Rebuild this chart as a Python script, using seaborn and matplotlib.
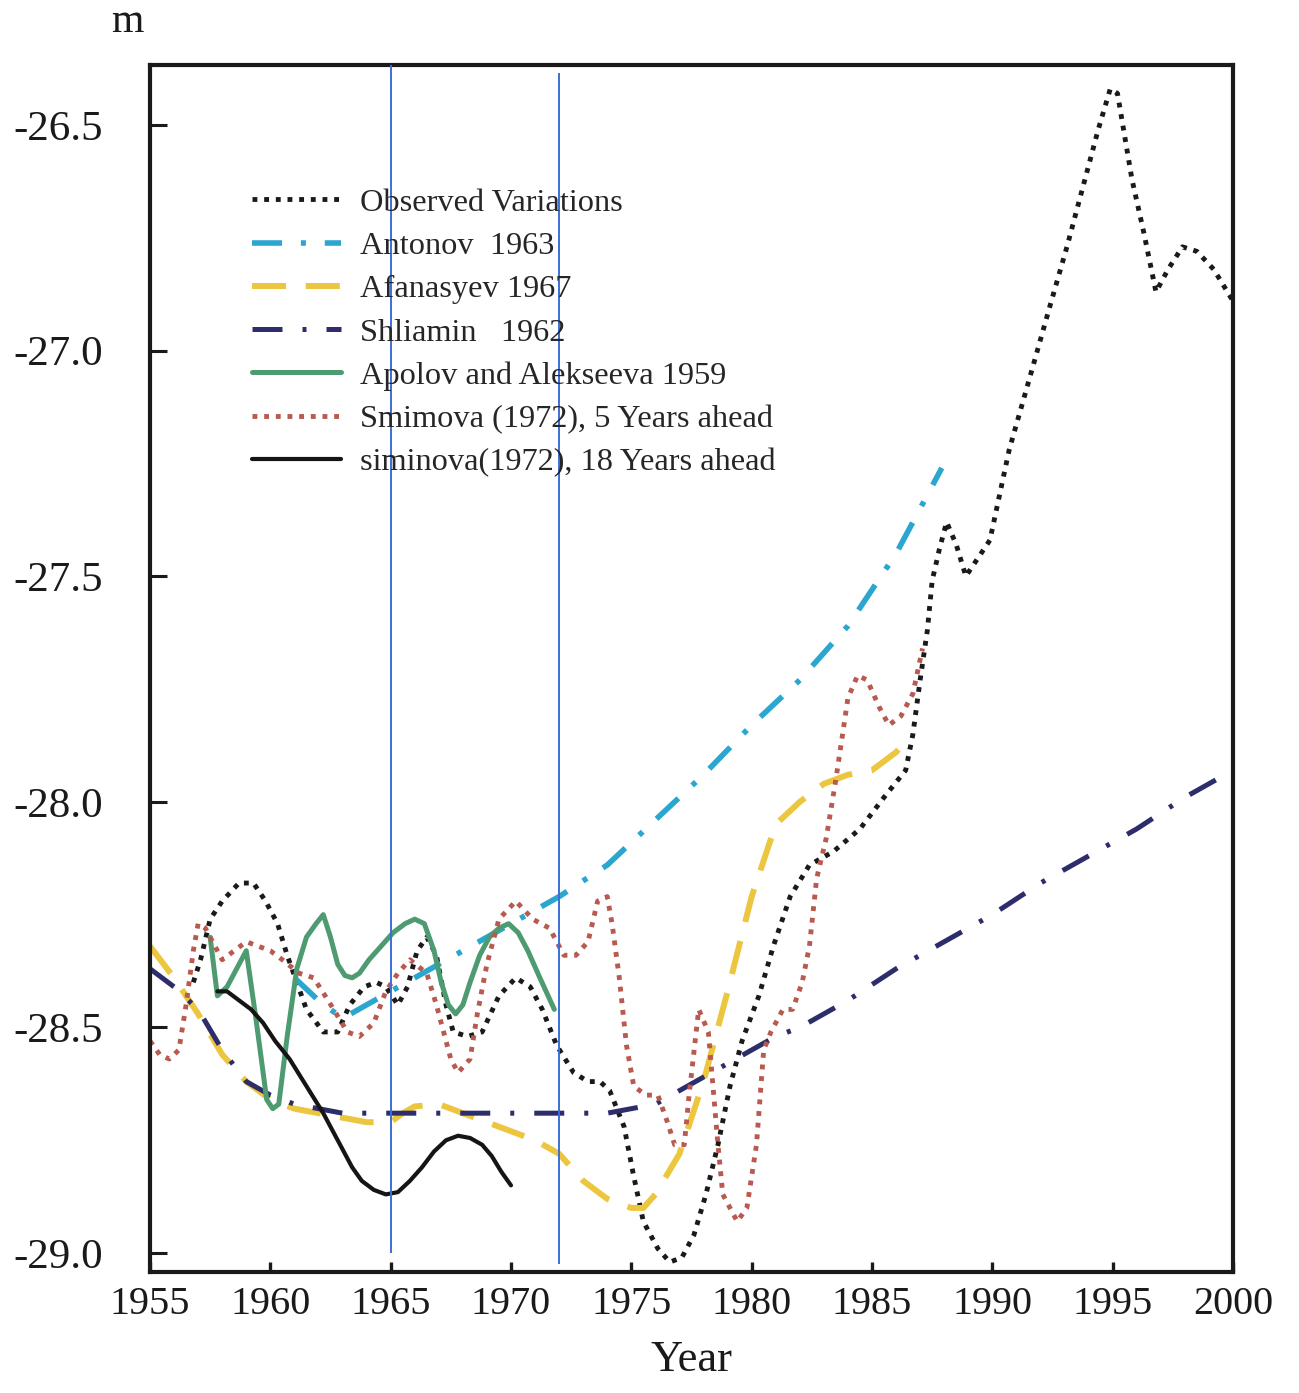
import matplotlib
matplotlib.use("Agg")
import matplotlib.pyplot as plt
import seaborn as sns

# ---- series (year, level in m) ----
obs_year = [1956.8, 1957.1, 1957.5, 1958.0, 1958.7, 1959.3, 1959.8, 1960.3, 1960.7, 1961.1,
            1961.5, 1962.2, 1962.8, 1963.3, 1963.9, 1964.4, 1964.8, 1965.3, 1965.7, 1966.1,
            1966.5, 1966.9, 1967.3, 1967.6, 1968.2, 1968.8, 1969.5, 1970.2, 1970.8, 1971.3,
            1971.9, 1972.6, 1973.2, 1973.7, 1974.1, 1974.7, 1975.1, 1975.5, 1976.1, 1976.6,
            1977.1, 1977.6, 1978.1, 1978.6, 1979.1, 1979.6, 1980.3, 1980.9, 1981.6, 1982.4,
            1983.4, 1984.5, 1985.5, 1986.4, 1986.7, 1987.0, 1987.3, 1987.5, 1987.8, 1988.1,
            1988.5, 1988.9, 1989.4, 1989.9, 1990.7, 1991.5, 1992.4, 1993.1, 1993.8, 1994.4,
            1994.9, 1995.2, 1995.8, 1996.3, 1996.8, 1997.3, 1997.9, 1998.5, 1999.2, 2000.0]
obs_val = [-28.40, -28.35, -28.26, -28.22, -28.18, -28.18, -28.22, -28.27, -28.34, -28.40,
           -28.46, -28.51, -28.51, -28.45, -28.41, -28.40, -28.41, -28.45, -28.41, -28.33,
           -28.30, -28.34, -28.45, -28.51, -28.52, -28.51, -28.43, -28.39, -28.41, -28.46,
           -28.54, -28.60, -28.62, -28.62, -28.64, -28.72, -28.83, -28.93, -28.99, -29.02,
           -29.01, -28.96, -28.87, -28.76, -28.63, -28.53, -28.43, -28.32, -28.21, -28.14,
           -28.11, -28.06, -27.99, -27.93, -27.85, -27.73, -27.62, -27.51, -27.44, -27.38,
           -27.43, -27.50, -27.46, -27.42, -27.22, -27.07, -26.90, -26.77, -26.63, -26.51,
           -26.42, -26.43, -26.62, -26.74, -26.87, -26.82, -26.77, -26.78, -26.82, -26.89]

antonov_year = [1961.0, 1962.0, 1963.0, 1964.0, 1965.0, 1966.0, 1967.0, 1968.0, 1969.0, 1970.0,
                1971.0, 1972.0, 1974.0, 1976.0, 1978.0, 1980.0, 1982.0, 1984.0, 1986.0, 1987.9]
antonov_val = [-28.39, -28.44, -28.48, -28.45, -28.42, -28.39, -28.36, -28.33, -28.30, -28.27,
               -28.24, -28.21, -28.14, -28.04, -27.94, -27.83, -27.73, -27.61, -27.45, -27.26]

afan_year = [1955, 1956, 1957, 1958, 1959, 1960, 1961, 1962, 1963, 1964, 1965, 1965.5, 1966,
             1967, 1968, 1969, 1970, 1971, 1972, 1973, 1974, 1975, 1975.5, 1976, 1977, 1978,
             1979, 1980, 1981, 1982, 1983, 1984, 1985, 1986, 1986.5]
afan_val = [-28.32, -28.39, -28.47, -28.56, -28.62, -28.66, -28.68, -28.69, -28.70, -28.71,
            -28.71, -28.69, -28.675, -28.67, -28.69, -28.71, -28.73, -28.75, -28.78, -28.84,
            -28.88, -28.90, -28.90, -28.87, -28.78, -28.62, -28.42, -28.21, -28.05, -28.00,
            -27.96, -27.94, -27.93, -27.89, -27.86]

shl_year = [1955, 1956, 1957, 1958, 1959, 1960, 1961, 1962, 1963, 1965, 1970, 1974, 1975,
            1976, 1977, 1978, 1979, 1980, 1981, 1982, 1984, 1986, 1988, 1990, 1992, 1994,
            1996, 1998, 2000]
shl_val = [-28.37, -28.41, -28.46, -28.55, -28.62, -28.65, -28.67, -28.68, -28.69, -28.69,
           -28.69, -28.69, -28.68, -28.67, -28.64, -28.61, -28.58, -28.55, -28.52, -28.50,
           -28.44, -28.37, -28.31, -28.25, -28.18, -28.12, -28.06, -27.99, -27.93]

apolov_year = [1957.5, 1957.8, 1958.2, 1958.6, 1959.0, 1959.4, 1959.85, 1960.1, 1960.35, 1960.7,
               1961.1, 1961.5, 1961.9, 1962.2, 1962.5, 1962.8, 1963.1, 1963.4, 1963.7, 1964.1,
               1964.6, 1965.1, 1965.6, 1966.0, 1966.4, 1966.8, 1967.1, 1967.4, 1967.7, 1968.0,
               1968.3, 1968.7, 1969.1, 1969.5, 1969.9, 1970.3, 1970.7, 1971.2, 1971.8]
apolov_val = [-28.30, -28.43, -28.41, -28.37, -28.33, -28.48, -28.66, -28.68, -28.67, -28.52,
              -28.37, -28.30, -28.27, -28.25, -28.30, -28.36, -28.385, -28.39, -28.38, -28.35,
              -28.32, -28.29, -28.27, -28.26, -28.27, -28.33, -28.40, -28.45, -28.47, -28.45,
              -28.40, -28.34, -28.30, -28.28, -28.27, -28.29, -28.33, -28.39, -28.46]

smi5_year = [1955.0, 1955.4, 1955.8, 1956.2, 1956.5, 1956.8, 1957.0, 1957.3, 1957.6, 1958.0,
             1958.5, 1959.0, 1959.5, 1960.0, 1960.5, 1961.2, 1961.8, 1962.4, 1963.2, 1963.7,
             1964.3, 1964.8, 1965.3, 1965.8, 1966.5, 1966.9, 1967.5, 1967.8, 1968.3, 1968.6,
             1969.0, 1969.5, 1970.2, 1970.9, 1971.6, 1972.2, 1972.7, 1973.2, 1973.6, 1974.0,
             1974.2, 1974.5, 1974.8, 1975.1, 1975.6, 1976.1, 1976.5, 1976.8, 1977.2, 1977.4,
             1977.8, 1978.2, 1978.6, 1978.8, 1979.4, 1979.8, 1980.2, 1980.5, 1980.8, 1981.3,
             1981.7, 1982.1, 1982.4, 1982.7, 1983.1, 1983.5, 1984.0, 1984.4, 1984.8, 1985.3,
             1985.7, 1986.2, 1986.7, 1987.1]
smi5_val = [-28.53, -28.56, -28.57, -28.55, -28.45, -28.33, -28.27, -28.28, -28.31, -28.35,
            -28.33, -28.31, -28.32, -28.33, -28.35, -28.38, -28.39, -28.44, -28.51, -28.52,
            -28.49, -28.42, -28.38, -28.35, -28.38, -28.45, -28.57, -28.60, -28.57, -28.47,
            -28.36, -28.26, -28.22, -28.26, -28.28, -28.34, -28.34, -28.31, -28.22, -28.21,
            -28.27, -28.39, -28.54, -28.63, -28.65, -28.65, -28.71, -28.76, -28.76, -28.65,
            -28.46, -28.51, -28.76, -28.87, -28.93, -28.90, -28.76, -28.55, -28.51, -28.46,
            -28.46, -28.40, -28.32, -28.17, -28.08, -27.95, -27.77, -27.72, -27.73, -27.79,
            -27.83, -27.81, -27.76, -27.66]

smi18_year = [1957.8, 1958.2, 1958.7, 1959.2, 1959.7, 1960.2, 1960.8, 1961.5, 1962.2, 1962.9,
              1963.4, 1963.8, 1964.3, 1964.8, 1965.3, 1965.8, 1966.3, 1966.8, 1967.3, 1967.8,
              1968.3, 1968.8, 1969.2, 1969.6, 1970.0]
smi18_val = [-28.42, -28.42, -28.44, -28.46, -28.49, -28.53, -28.57, -28.63, -28.69, -28.76,
             -28.81, -28.84, -28.86, -28.87, -28.865, -28.84, -28.81, -28.775, -28.75, -28.74,
             -28.745, -28.76, -28.785, -28.82, -28.85]

labels = ["Observed Variations", "Antonov  1963", "Afanasyev 1967", "Shliamin   1962",
          "Apolov and Alekseeva 1959", "Smimova (1972), 5 Years ahead",
          "siminova(1972), 18 Years ahead"]

x_ticks = [1955, 1960, 1965, 1970, 1975, 1980, 1985, 1990, 1995, 2000]
y_ticks = [-26.5, -27.0, -27.5, -28.0, -28.5, -29.0]

# reference years marked by vertical lines, with their bottom/top levels
mark_years = [1965, 1972]
mark_low = [-29.0, -29.025]
mark_high = [-26.367, -26.385]

# ---- style ----
sns.set_theme(style="white")
plt.rcParams["font.family"] = ["Liberation Serif", "DejaVu Serif"]

fig = plt.figure(figsize=(12.99, 13.93), dpi=100)
ax = fig.add_axes([0.11547, 0.08686, 0.83372, 0.86647])

# (years, values, colour, width, dash pattern in line-width units)
series = [
    (obs_year, obs_val, "#1a1a1a", 3.5, (1.0, 1.4)),
    (antonov_year, antonov_val, "#2ba6cf", 4.0, (5.4, 3.4, 0.9, 3.4)),
    (afan_year, afan_val, "#ebc63e", 4.3, (5.7, 3.3)),
    (shl_year, shl_val, "#2d2d6b", 3.6, (6.0, 4.0, 0.8, 4.0)),
    (apolov_year, apolov_val, "#4e9b72", 3.6, None),
    (smi5_year, smi5_val, "#b85a4f", 3.5, (1.0, 1.4)),
    (smi18_year, smi18_val, "#151515", 3.0, None),
]

for (xs, ys, col, lw, dash), lab in zip(series, labels):
    sns.lineplot(x=xs, y=ys, ax=ax, color=col, linewidth=lw,
                 estimator=None, sort=False, legend=False)
    line = ax.lines[-1]
    line.set_label(lab)
    line.set_solid_joinstyle("round")
    if dash is not None:
        line.set_dashes(dash)
        line.set_dash_capstyle("butt")
    else:
        line.set_linestyle("-")

ax.vlines(mark_years, mark_low, mark_high, colors="#3b6fd6", linewidth=1.4,
          clip_on=False, zorder=5)

ax.set_xlim(1955, 2000)
ax.set_ylim(-29.042, -26.367)
ax.set_xticks(x_ticks)
ax.set_xticklabels([str(v) for v in x_ticks])
ax.set_yticks(y_ticks)
ax.set_yticklabels([f"{v:.1f}" for v in y_ticks])

ax.tick_params(axis="x", direction="in", length=7, width=2.4, labelsize=29,
               pad=10, colors="#1a1a1a", bottom=True, top=False)
ax.tick_params(axis="y", direction="in", length=12, width=2.2, labelsize=31,
               pad=34, colors="#1a1a1a", left=True, right=False)

for sp in ax.spines.values():
    sp.set_visible(True)
    sp.set_color("#1a1a1a")
    sp.set_linewidth(3.0)

ax.set_xlabel("Year", fontsize=32, labelpad=12, color="#1a1a1a")
ax.set_ylabel("")
fig.text(0.0978, 0.9985, "m", fontsize=30, ha="center", va="top", color="#1a1a1a")

handles, labs = ax.get_legend_handles_labels()
ax.legend(handles, labs, loc="upper left", bbox_to_anchor=(0.0942, 0.898),
          frameon=False, fontsize=23.3, handlelength=2.75, handletextpad=0.6,
          labelspacing=0.42, borderpad=0, borderaxespad=0)

fig.savefig("out.png", dpi=100, facecolor="white")
